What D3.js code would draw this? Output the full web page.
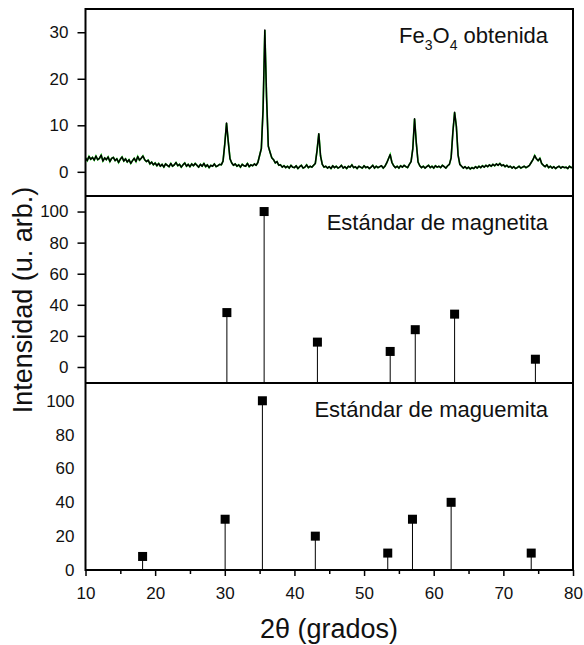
<!DOCTYPE html>
<html>
<head>
<meta charset="utf-8">
<script src="https://cdn.jsdelivr.net/npm/d3@7"></script>
<style>
  body { margin: 0; background: #fff; }
  svg text { font-family: "Liberation Sans", Arial, sans-serif; fill: #111; }
  .axis path, .axis line { stroke: #000; }
</style>
</head>
<body>
<div id="chart"></div>
<script>

// ---- data ----

// measured pattern, 2theta from 10 to 80 every 0.25 deg
const scanStart = 10, scanStep = 0.25;
const fe3o4Intensity = [
  3.0, 2.4, 3.3, 2.7,   3.1, 2.5, 3.4, 2.6,   2.9, 3.6, 2.3, 3.0,   2.6, 3.2, 2.2, 2.9,
  3.1, 2.4, 2.8, 2.0,   2.7, 3.2, 2.3, 2.8,   2.1, 2.6, 1.8, 2.4,   2.9, 2.2, 3.3, 2.5,
  2.9, 3.4, 2.6, 2.2,   2.5, 1.7, 2.1, 1.5,   1.9, 1.3, 1.8, 1.2,   1.6, 1.0, 1.7, 1.4,
  1.1, 1.8, 1.2, 1.5,   2.0, 1.3, 1.6, 1.0,   1.5, 1.9, 1.2, 1.6,   1.1, 1.7, 1.3, 1.8,
  1.4, 1.0, 1.6, 1.2,   1.8, 1.1, 1.5, 0.9,   1.4, 1.2, 1.7, 1.1,   1.3, 1.6, 1.5, 2.3,
  6.0, 10.5, 6.5, 2.8,  1.9, 1.4, 1.7, 1.2,   1.5, 1.0, 1.6, 1.3,   1.2, 1.8, 1.1, 1.5,
  1.3, 1.7, 1.4, 2.0,   3.5, 5.0, 13.5, 30.5, 16.0, 5.5, 4.2, 3.0,  2.6, 1.9, 2.2, 1.4,
  1.5, 1.0, 1.3, 0.9,   1.2, 0.8, 1.4, 1.0,   0.9, 1.3, 0.7, 1.1,   1.4, 0.8, 1.0, 1.5,
  0.9, 1.2, 1.0, 1.4,   1.8, 4.6, 8.2, 3.4,   1.6, 1.0, 1.2, 0.8,   1.1, 0.7, 1.3, 0.9,
  1.2, 0.8, 1.0, 1.4,   0.8, 1.1, 0.7, 1.2,   1.0, 1.5, 0.9, 1.1,   0.7, 1.2, 1.0, 0.8,
  1.3, 0.9, 1.1, 0.7,   1.0, 1.4, 0.8, 1.2,   0.9, 1.1, 1.3, 0.8,   1.2, 1.9, 2.8, 3.7,
  2.0, 1.3, 0.9, 1.2,   0.8, 1.3, 1.0, 1.4,   1.1, 0.9, 1.6, 2.2,   5.0, 11.4, 6.2, 2.1,
  1.3, 0.9, 1.2, 0.8,   1.1, 1.4, 0.9, 1.2,   0.8, 1.3, 1.0, 1.2,   0.9, 1.4, 1.1, 0.8,
  1.3, 1.6, 3.0, 8.5,   12.8, 9.8, 3.6, 1.6,  1.2, 0.8, 1.1, 0.7,   1.0, 0.6, 0.9, 0.7,
  1.1, 0.8, 1.2, 0.9,   1.3, 1.0, 1.4, 1.1,   1.5, 1.2, 1.6, 1.3,   1.7, 1.4, 1.8, 1.3,
  1.5, 1.1, 1.4, 1.0,   1.2, 0.8, 1.1, 0.7,   0.9, 1.2, 0.8, 1.0,   1.2, 0.9, 1.1, 1.4,
  2.0, 2.6, 3.5, 2.8,   2.4, 2.9, 1.8, 1.4,   1.1, 1.5, 0.9, 1.2,   0.8, 1.1, 0.7, 1.0,
  1.2, 0.8, 1.1, 0.9,   1.0, 0.7, 1.2, 0.9,
  1.0
];

// standard reference patterns (peak position, relative intensity)
const magnetitaAngles = [30.3, 35.65, 43.3, 53.75, 57.35, 63.0, 74.6];
const magnetitaIntensity = [35, 100, 16, 10, 24, 34, 5];

const maguemitaAngles = [18.2, 30.05, 35.4, 43.0, 53.4, 56.95, 62.5, 74.0];
const maguemitaIntensity = [8, 30, 100, 20, 10, 30, 40, 10];

const xTicks = [10, 20, 30, 40, 50, 60, 70, 80];
const xMinorTicks = [15, 25, 35, 45, 55, 65, 75];
const topTicks = [0, 10, 20, 30];
const stdTicks = [0, 20, 40, 60, 80, 100];

// ---- layout ----
const W = 584, H = 645;
const left = 85.5, right = 573;
const panels = [
  {top: 9,   bottom: 196, domain: [-5.2, 35]},
  {top: 196, bottom: 383, domain: [-10.3, 110]},
  {top: 383, bottom: 570, domain: [0, 110.5]}
];

const svg = d3.select("#chart").append("svg")
  .attr("width", W)
  .attr("height", H);

const x = d3.scaleLinear().domain([10, 80]).range([left, right]);

panels.forEach(p => {
  p.y = d3.scaleLinear().domain(p.domain).range([p.bottom, p.top]);
});

// clip for the measured trace
svg.append("clipPath").attr("id", "clip1")
  .append("rect")
  .attr("x", left).attr("y", panels[0].top)
  .attr("width", right - left).attr("height", panels[0].bottom - panels[0].top);

// ---- panel 1: measured Fe3O4 ----
const scan = fe3o4Intensity.map((v, i) => ({a: scanStart + i * scanStep, v: v}));

const line = d3.line()
  .x(d => x(d.a))
  .y(d => panels[0].y(d.v));

// green trace sits underneath the black one
svg.append("path")
  .datum(scan)
  .attr("clip-path", "url(#clip1)")
  .attr("d", line)
  .attr("fill", "none")
  .attr("stroke", "#22dd22")
  .attr("stroke-width", 1.7);

svg.append("path")
  .datum(scan)
  .attr("clip-path", "url(#clip1)")
  .attr("d", line)
  .attr("fill", "none")
  .attr("stroke", "#000")
  .attr("stroke-width", 1.5)
  .attr("stroke-linejoin", "round");

// ---- standard patterns as stems ----
function drawStems(p, angles, vals) {
  let data = angles.map((a, i) => ({a: a, v: vals[i]}));
  svg.append("g").selectAll("line")
    .data(data)
    .enter()
    .append("line")
    .attr("x1", d => x(d.a))
    .attr("x2", d => x(d.a))
    .attr("y1", d => p.y(d.v))
    .attr("y2", p.bottom)
    .attr("stroke", "#000")
    .attr("stroke-width", 1);
  svg.append("g").selectAll("rect")
    .data(data)
    .enter()
    .append("rect")
    .attr("x", d => x(d.a) - 4.5)
    .attr("y", d => p.y(d.v) - 4.5)
    .attr("width", 9)
    .attr("height", 9)
    .attr("fill", "#000");
}
drawStems(panels[1], magnetitaAngles, magnetitaIntensity);
drawStems(panels[2], maguemitaAngles, maguemitaIntensity);

// ---- y axes ----
function yAxis(p, ticks, size, pad) {
  let g = svg.append("g")
    .attr("class", "axis")
    .attr("transform", "translate(" + left + ",0)")
    .call(d3.axisLeft(p.y).tickValues(ticks).tickSize(size).tickPadding(pad));
  g.select(".domain").remove();
  g.selectAll("line").attr("stroke-width", 1.5);
  g.selectAll("text").style("font-size", "17px");
}
yAxis(panels[0], topTicks, 8, 9);
yAxis(panels[1], stdTicks, 8, 9);
yAxis(panels[2], stdTicks, 0, 11);

// ---- x axis (bottom) ----
const xAxisG = svg.append("g")
  .attr("class", "axis")
  .attr("transform", "translate(0," + panels[2].bottom + ")")
  .call(d3.axisBottom(x).tickValues(xTicks).tickSize(6).tickPadding(11));
xAxisG.select(".domain").remove();
xAxisG.selectAll("line").attr("stroke-width", 1.5);
xAxisG.selectAll("text").style("font-size", "17px");

const xMinorG = svg.append("g")
  .attr("class", "axis")
  .attr("transform", "translate(0," + panels[2].bottom + ")")
  .call(d3.axisBottom(x).tickValues(xMinorTicks).tickSize(4).tickFormat(""));
xMinorG.select(".domain").remove();
xMinorG.selectAll("line").attr("stroke-width", 1.5);

// ---- frames ----
svg.append("rect")
  .attr("x", left).attr("y", panels[0].top)
  .attr("width", right - left).attr("height", panels[2].bottom - panels[0].top)
  .attr("fill", "none")
  .attr("stroke", "#000")
  .attr("stroke-width", 2);

[panels[0].bottom, panels[1].bottom].forEach(yy => {
  svg.append("line")
    .attr("x1", left).attr("x2", right)
    .attr("y1", yy).attr("y2", yy)
    .attr("stroke", "#000")
    .attr("stroke-width", 2.2);
});

// ---- panel titles ----
const t1 = svg.append("text")
  .attr("x", 548).attr("y", 43)
  .attr("text-anchor", "end")
  .style("font-size", "22px");
t1.append("tspan").text("Fe");
t1.append("tspan").attr("dy", 7).style("font-size", "14px").text("3");
t1.append("tspan").attr("dy", -7).text("O");
t1.append("tspan").attr("dy", 7).style("font-size", "14px").text("4");
t1.append("tspan").attr("dy", -7).text(" obtenida");

svg.append("text")
  .attr("x", 548).attr("y", 230)
  .attr("text-anchor", "end")
  .style("font-size", "22px")
  .text("Estándar de magnetita");

svg.append("text")
  .attr("x", 548).attr("y", 417)
  .attr("text-anchor", "end")
  .style("font-size", "22px")
  .text("Estándar de maguemita");

// ---- axis labels ----
svg.append("text")
  .attr("transform", "translate(32,300) rotate(-90)")
  .attr("text-anchor", "middle")
  .style("font-size", "27px")
  .text("Intensidad  (u. arb.)");

svg.append("text")
  .attr("x", 329).attr("y", 638)
  .attr("text-anchor", "middle")
  .style("font-size", "27px")
  .text("2θ (grados)");

</script>
</body>
</html>
